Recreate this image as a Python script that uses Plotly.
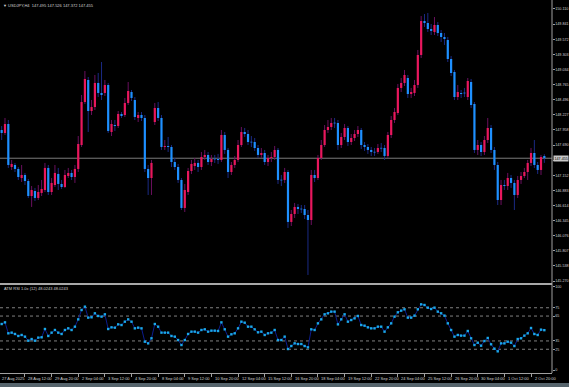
import plotly.graph_objects as go

# ---------------- data (USDJPY H4) ----------------
opens = [
147.957, 147.904, 148.064, 147.299, 147.335, 147.264, 147.103, 147.157, 147.050, 146.783,
146.872, 146.748, 146.837, 146.890, 147.282, 146.854, 146.979, 147.175, 146.997, 146.943,
147.139, 147.193, 147.121, 147.264, 147.690, 148.455, 148.847, 148.295, 148.366, 148.794,
148.616, 148.616, 148.758, 147.922, 148.046, 148.028, 148.242, 148.224, 148.438, 148.633,
148.491, 148.171, 148.224, 148.171, 147.264, 147.103, 148.099, 148.349, 148.171, 147.655,
147.673, 147.655, 147.388, 147.299, 147.068, 146.570, 146.854, 147.228, 147.317, 147.371,
147.299, 147.477, 147.513, 147.388, 147.442, 147.442, 147.424, 147.868, 147.602, 147.210,
147.335, 147.424, 147.690, 147.922, 147.886, 147.744, 147.744, 147.637, 147.513, 147.548,
147.388, 147.460, 147.477, 147.602, 147.068, 147.068, 147.210, 146.321, 146.463, 146.588,
146.552, 146.552, 146.445, 146.356, 147.157, 147.103, 147.460, 147.690, 147.957, 148.011,
148.082, 148.082, 147.690, 147.833, 147.993, 147.744, 147.815, 147.886, 147.957, 147.690,
147.655, 147.602, 147.566, 147.566, 147.637, 147.637, 147.495, 147.868, 148.135, 148.260,
148.705, 148.794, 148.882, 148.598, 148.616, 148.758, 149.292, 149.896, 149.861, 149.754,
149.701, 149.825, 149.683, 149.612, 149.558, 149.220, 148.989, 148.544, 148.616, 148.616,
148.544, 148.811, 148.420, 147.602, 147.690, 147.566, 147.779, 147.993, 147.602, 147.335,
146.712, 146.979, 146.961, 147.103, 147.015, 146.801, 147.068, 147.139, 147.210, 147.371,
147.548, 147.335, 147.246, 147.495]

highs = [
148.028, 148.171, 148.135, 147.424, 147.371, 147.299, 147.335, 147.193, 147.086, 146.961,
146.926, 146.979, 147.068, 147.371, 147.335, 147.103, 147.335, 147.282, 147.068, 147.246,
147.282, 147.246, 147.335, 147.850, 148.580, 149.007, 148.900, 148.491, 148.936, 148.972,
149.167, 148.847, 148.794, 148.135, 148.135, 148.295, 148.277, 148.527, 148.811, 148.669,
148.544, 148.277, 148.277, 148.224, 147.335, 147.424, 148.438, 148.455, 148.224, 147.779,
147.833, 147.690, 147.460, 147.353, 147.103, 146.997, 147.282, 147.424, 147.460, 147.424,
147.566, 147.602, 147.566, 147.513, 147.513, 147.531, 147.957, 147.922, 147.637, 147.388,
147.495, 147.779, 148.011, 147.993, 147.957, 147.850, 147.815, 147.690, 147.637, 147.602,
147.513, 147.566, 147.673, 147.637, 147.157, 147.282, 147.246, 146.534, 146.659, 146.641,
146.623, 146.623, 146.534, 147.246, 147.246, 147.513, 147.779, 148.046, 148.135, 148.171,
148.171, 148.135, 147.904, 148.064, 148.028, 147.886, 147.957, 148.028, 147.993, 147.744,
147.708, 147.655, 147.637, 147.708, 147.726, 147.690, 147.922, 148.206, 148.349, 148.776,
148.882, 149.025, 148.936, 148.705, 148.847, 149.381, 149.985, 150.021, 150.039, 149.843,
149.967, 149.878, 149.736, 149.683, 149.612, 149.274, 149.025, 148.758, 148.669, 148.705,
148.882, 148.865, 148.455, 147.779, 147.744, 147.850, 148.171, 148.046, 147.655, 147.388,
147.068, 147.068, 147.193, 147.157, 147.068, 147.139, 147.210, 147.282, 147.424, 147.637,
147.779, 147.388, 147.513, 147.526]

lows = [
147.779, 147.868, 147.282, 147.246, 147.210, 147.068, 147.032, 146.979, 146.748, 146.588,
146.694, 146.712, 146.783, 146.854, 146.801, 146.801, 146.943, 146.890, 146.908, 146.926,
147.103, 147.068, 147.015, 147.210, 147.655, 148.420, 147.922, 148.224, 148.313, 148.544,
148.491, 148.562, 147.904, 147.850, 147.940, 147.993, 148.171, 148.189, 148.402, 148.473,
148.135, 148.099, 148.117, 147.210, 146.801, 146.801, 148.046, 148.117, 147.602, 147.602,
147.566, 147.299, 147.246, 147.015, 146.534, 146.498, 146.801, 147.175, 147.246, 147.210,
147.246, 147.424, 147.335, 147.317, 147.371, 147.353, 147.388, 147.531, 147.103, 147.157,
147.282, 147.388, 147.655, 147.833, 147.690, 147.655, 147.584, 147.460, 147.460, 147.335,
147.317, 147.388, 147.424, 146.997, 146.961, 147.015, 146.214, 146.249, 146.392, 146.463,
146.481, 146.374, 145.378, 146.267, 147.032, 147.068, 147.424, 147.655, 147.904, 147.957,
147.993, 147.602, 147.637, 147.779, 147.673, 147.690, 147.761, 147.833, 147.619, 147.584,
147.531, 147.495, 147.495, 147.531, 147.566, 147.424, 147.460, 147.815, 148.082, 148.224,
148.633, 148.740, 148.527, 148.527, 148.562, 148.705, 149.238, 149.790, 149.701, 149.647,
149.647, 149.630, 149.523, 149.470, 149.167, 148.918, 148.491, 148.491, 148.527, 148.544,
148.491, 148.349, 147.548, 147.513, 147.495, 147.513, 147.726, 147.548, 147.246, 146.623,
146.623, 146.890, 146.890, 146.926, 146.534, 146.748, 146.997, 147.103, 147.068, 147.317,
147.282, 147.175, 147.157, 147.372]

closes = [
147.904, 148.064, 147.335, 147.353, 147.264, 147.121, 147.157, 147.050, 146.783, 146.890,
146.748, 146.854, 146.908, 147.282, 146.854, 147.015, 147.193, 146.997, 146.943, 147.157,
147.193, 147.121, 147.264, 147.708, 148.455, 148.865, 148.295, 148.366, 148.794, 148.616,
148.580, 148.758, 147.940, 148.064, 148.028, 148.242, 148.206, 148.438, 148.651, 148.527,
148.189, 148.224, 148.171, 147.264, 147.103, 147.371, 148.349, 148.171, 147.655, 147.673,
147.655, 147.388, 147.299, 147.068, 146.570, 146.890, 147.228, 147.353, 147.371, 147.299,
147.477, 147.513, 147.388, 147.442, 147.440, 147.424, 147.868, 147.602, 147.210, 147.335,
147.424, 147.690, 147.922, 147.886, 147.744, 147.740, 147.637, 147.513, 147.548, 147.388,
147.460, 147.477, 147.602, 147.068, 147.065, 147.210, 146.321, 146.463, 146.588, 146.552,
146.550, 146.445, 146.356, 147.157, 147.103, 147.460, 147.690, 147.957, 148.011, 148.082,
148.080, 147.690, 147.833, 147.993, 147.744, 147.815, 147.886, 147.957, 147.690, 147.655,
147.602, 147.566, 147.560, 147.637, 147.630, 147.495, 147.868, 148.135, 148.277, 148.705,
148.794, 148.936, 148.598, 148.633, 148.758, 149.292, 149.896, 149.861, 149.754, 149.719,
149.825, 149.683, 149.612, 149.576, 149.220, 148.971, 148.544, 148.633, 148.598, 148.614,
148.829, 148.402, 147.602, 147.690, 147.566, 147.779, 147.993, 147.602, 147.335, 146.712,
146.979, 146.961, 147.103, 147.015, 146.801, 147.068, 147.139, 147.210, 147.371, 147.548,
147.335, 147.246, 147.477, 147.455]

rsi = [
55.4, 57.4, 44.2, 45.0, 43.4, 41.0, 42.2, 40.2, 35.3, 37.3,
35.3, 39.0, 39.4, 49.4, 41.0, 45.0, 48.2, 45.0, 43.4, 48.2,
50.2, 48.2, 52.2, 61.0, 72.3, 76.3, 63.1, 63.5, 68.3, 65.1,
64.3, 67.1, 49.4, 51.4, 51.0, 55.0, 54.2, 58.2, 61.0, 58.2,
50.2, 51.0, 50.2, 34.1, 32.1, 38.2, 55.4, 52.2, 45.0, 45.0,
45.0, 41.0, 40.2, 36.1, 30.1, 36.1, 43.4, 46.2, 46.2, 45.0,
48.2, 49.0, 46.2, 47.4, 47.4, 47.0, 57.4, 49.0, 40.2, 43.0,
44.2, 50.2, 58.2, 57.0, 52.2, 52.2, 49.0, 45.4, 46.2, 42.2,
44.2, 45.0, 48.2, 36.1, 36.1, 40.2, 25.3, 28.9, 32.1, 31.3,
31.3, 28.9, 27.3, 49.0, 48.2, 56.2, 61.0, 67.1, 68.3, 70.3,
70.3, 55.0, 61.0, 67.1, 58.2, 60.2, 62.2, 65.1, 54.2, 53.4,
51.4, 50.2, 50.2, 52.2, 52.2, 46.2, 51.4, 56.2, 64.3, 69.5,
71.5, 73.1, 63.1, 63.1, 65.5, 73.1, 79.1, 78.3, 75.1, 73.5,
75.1, 70.3, 68.3, 65.5, 56.2, 48.2, 40.2, 42.2, 41.4, 41.4,
47.0, 38.2, 30.1, 32.9, 29.3, 34.9, 38.6, 31.0, 25.7, 22.5,
32.1, 32.1, 34.1, 32.9, 28.9, 37.3, 38.2, 41.4, 44.2, 50.6,
43.4, 42.2, 48.6, 48.0]

price_ticks = [150.110, 149.841, 149.572, 149.303, 149.034, 148.765, 148.496, 148.227,
               147.958, 147.690, 147.421, 147.152, 146.883, 146.614, 146.345, 146.076,
               145.807, 145.538, 145.270]
rsi_ticks = [100, 75, 65, 35, 25, 0]
rsi_levels = [75, 65, 35, 25]

time_labels = ["27 Aug 2025", "28 Aug 12:00", "29 Aug 20:00", "2 Sep 04:00", "3 Sep 12:00",
               "4 Sep 20:00", "8 Sep 04:00", "9 Sep 12:00", "10 Sep 20:00", "12 Sep 04:00",
               "15 Sep 12:00", "16 Sep 20:00", "18 Sep 04:00", "19 Sep 12:00", "22 Sep 20:00",
               "24 Sep 04:00", "25 Sep 12:00", "26 Sep 20:00", "30 Sep 04:00", "1 Oct 12:00",
               "2 Oct 20:00"]
time_label_bars = [-1, 7, 15, 23, 31, 39, 47, 55, 63, 71, 79, 87, 95, 103, 111, 119, 127,
                   135, 143, 151, 159]

symbol_header = "USDJPY,H4  147.495 147.526 147.372 147.455"
indicator_title = "ATM RSI 1.0x (12) 48.0243 48.0243"
bid_price = 147.455

# ---------------- figure ----------------
W, H = 569, 387
AX_X = 552          # right price-axis line (px)
MAIN_BOT = 283      # bottom of main window (px)
SUB_TOP, SUB_BOT = 285, 373

n = len(closes)
idx = list(range(n))
BULL = "#e8175d"
BEAR = "#1e90ff"
BULL_W = "#6a0f5e"
BEAR_W = "#1a2a85"
AXC = "#a0a0a0"
TXT = "#d2d2d2"
FONT = "Liberation Sans"
AX_FS = 3.7

fig = go.Figure()

# wicks
for up, col in ((True, BULL_W), (False, BEAR_W)):
    xs, ys = [], []
    for i in idx:
        if (closes[i] >= opens[i]) == up:
            xs += [i, i, None]
            ys += [lows[i], highs[i], None]
    fig.add_trace(go.Scatter(x=xs, y=ys, mode="lines", line=dict(color=col, width=1),
                             hoverinfo="skip", showlegend=False))

# bodies (thick line segments, drawn above the wicks)
min_h = 0.012
for up, col in ((True, BULL), (False, BEAR)):
    xs, ys = [], []
    for i in idx:
        if (closes[i] >= opens[i]) == up:
            lo = min(opens[i], closes[i])
            hi = max(opens[i], closes[i])
            if hi - lo < min_h:
                mid = (hi + lo) / 2
                lo, hi = mid - min_h / 2, mid + min_h / 2
            xs += [i, i, None]
            ys += [lo, hi, None]
    fig.add_trace(go.Scatter(x=xs, y=ys, mode="lines", line=dict(color=col, width=2.2),
                             hoverinfo="skip", showlegend=False))

# RSI
fig.add_trace(go.Scatter(x=idx, y=rsi, mode="lines+markers", xaxis="x2", yaxis="y2",
                         line=dict(color="#0c1c8e", width=1),
                         marker=dict(symbol="square", size=2.4, color="#1aa8e8", line=dict(width=0)),
                         showlegend=False, hoverinfo="skip"))

x_range = [-0.5, 165.3]
xd = [0, AX_X / W]
main_dom = [1 - MAIN_BOT / H, 1]
sub_dom = [1 - SUB_BOT / H, 1 - SUB_TOP / H]
p_top, p_bot = 150.270, 145.235
r_top, r_bot = 102.4, -3.6

price_text = ["" if abs(v - bid_price) < 0.1 else f"{v:.3f}" for v in price_ticks]

fig.update_layout(
    width=W, height=H, margin=dict(l=0, r=0, t=0, b=0, pad=0, autoexpand=False),
    paper_bgcolor="black", plot_bgcolor="black", showlegend=False,
    font=dict(family=FONT, size=4, color=TXT),
    xaxis=dict(domain=xd, range=x_range, anchor="y", showgrid=False, zeroline=False,
               showticklabels=False, ticks="", showline=False, automargin=False),
    yaxis=dict(domain=main_dom, range=[p_bot, p_top], side="right", showgrid=False, zeroline=False,
               tickvals=price_ticks, ticktext=price_text, automargin=False,
               ticks="outside", ticklen=1.5, tickcolor=AXC, showline=False,
               tickfont=dict(size=AX_FS, color=TXT, family=FONT)),
    xaxis2=dict(domain=xd, range=x_range, anchor="y2", showgrid=False, zeroline=False,
                tickvals=time_label_bars, showticklabels=False, ticks="outside", ticklen=3,
                tickcolor=AXC, showline=True, linecolor=AXC, linewidth=1, automargin=False),
    yaxis2=dict(domain=sub_dom, range=[r_bot, r_top], side="right", anchor="x2", showgrid=False,
                zeroline=False, tickvals=rsi_ticks, ticktext=[str(v) for v in rsi_ticks],
                ticks="outside", ticklen=1.5, tickcolor=AXC, showline=False, automargin=False,
                tickfont=dict(size=AX_FS, color=TXT, family=FONT)),
)

shapes = []
shapes.append(dict(type="line", xref="paper", yref="paper", x0=AX_X / W, x1=AX_X / W,
                   y0=1 - SUB_BOT / H, y1=1, line=dict(color=AXC, width=1)))
shapes.append(dict(type="line", xref="paper", yref="paper", x0=0, x1=AX_X / W,
                   y0=1 - (MAIN_BOT + 1) / H, y1=1 - (MAIN_BOT + 1) / H, line=dict(color="#a8a8a8", width=2)))
shapes.append(dict(type="line", xref="paper", yref="y", x0=0, x1=AX_X / W, y0=bid_price, y1=bid_price,
                   line=dict(color="#7c7c7c", width=1), layer="below"))
for lv in rsi_levels:
    shapes.append(dict(type="line", xref="paper", yref="y2", x0=0, x1=AX_X / W, y0=lv, y1=lv,
                       line=dict(color="#808080", width=1, dash="dot"), layer="below"))
shapes.append(dict(type="rect", xref="paper", yref="paper", x0=0, x1=1, y0=0, y1=4 / H,
                   fillcolor="#56646c", line=dict(width=0), layer="above"))
fig.update_layout(shapes=shapes)

ann = []
for lab, b in zip(time_labels, time_label_bars):
    ann.append(dict(x=max(b + 0.45, x_range[0]), xref="x2", y=1 - 378.5 / H, yref="paper", text=lab,
                    showarrow=False, xanchor="left", yanchor="middle",
                    font=dict(size=4, color=TXT, family=FONT)))
ann.append(dict(x=1 / W, xref="paper", y=1 - 1 / H, yref="paper", text="▼ " + symbol_header,
                showarrow=False, xanchor="left", yanchor="top", font=dict(size=4, color=TXT, family=FONT)))
ann.append(dict(x=2 / W, xref="paper", y=1 - 288 / H, yref="paper", text=indicator_title,
                showarrow=False, xanchor="left", yanchor="middle", font=dict(size=4, color=TXT, family=FONT)))
ann.append(dict(x=(AX_X + 1) / W, xref="paper", y=bid_price, yref="y", text=f"{bid_price:.3f}",
                showarrow=False, xanchor="left", yanchor="middle", bgcolor="#c8c8c8", borderpad=0.5,
                font=dict(size=AX_FS, color="black", family=FONT)))
fig.update_layout(annotations=ann)

fig.write_html("out.html", config={"displayModeBar": False},
               post_script="document.body.style.margin='0';document.body.style.background='black';")
